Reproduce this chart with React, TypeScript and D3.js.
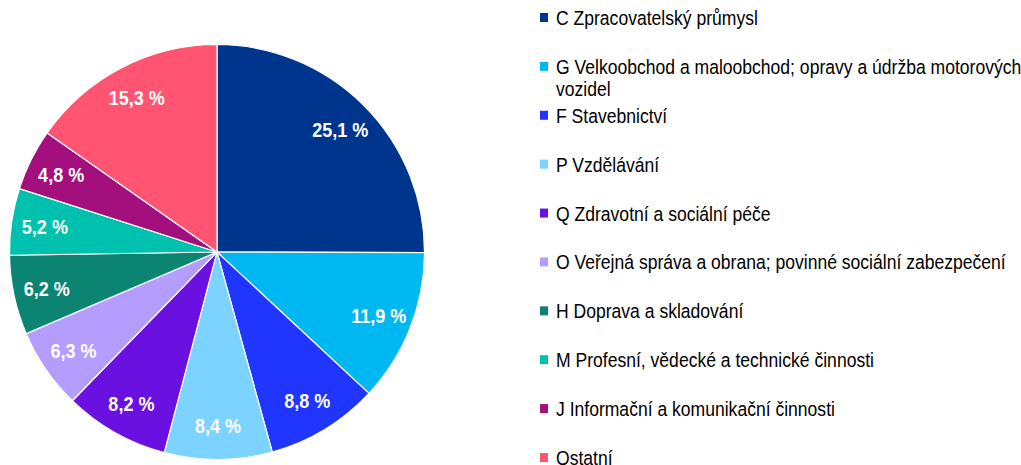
import React from "react";
import * as d3 from "d3";

const categories = [
  "C Zpracovatelský průmysl",
  "G Velkoobchod a maloobchod; opravy a údržba motorových vozidel",
  "F Stavebnictví",
  "P Vzdělávání",
  "Q Zdravotní a sociální péče",
  "O Veřejná správa a obrana; povinné sociální zabezpečení",
  "H Doprava a skladování",
  "M Profesní, vědecké a technické činnosti",
  "J Informační a komunikační činnosti",
  "Ostatní",
];
const legendLines = [
  ["C Zpracovatelský průmysl"],
  ["G Velkoobchod a maloobchod; opravy a údržba motorových", "vozidel"],
  ["F Stavebnictví"],
  ["P Vzdělávání"],
  ["Q Zdravotní a sociální péče"],
  ["O Veřejná správa a obrana; povinné sociální zabezpečení"],
  ["H Doprava a skladování"],
  ["M Profesní, vědecké a technické činnosti"],
  ["J Informační a komunikační činnosti"],
  ["Ostatní"],
];
const values = [25.1, 11.9, 8.8, 8.4, 8.2, 6.3, 6.2, 5.2, 4.8, 15.3];
const colors = [
  "#00358E", "#00B8F1", "#2036FF", "#7DD3FF", "#6A10E0",
  "#B49DFF", "#0B8472", "#00C1AE", "#A3107E", "#FF5573",
];

const W = 1021, H = 465;
const FONT = "'Liberation Sans', Arial, sans-serif";

export default function App() {
  const cx = 217, cy = 252, R = 207.5;
  const pie = d3.pie<number>().sort(null).value((d) => d)(values);
  const arc = d3.arc<d3.PieArcDatum<number>>().innerRadius(0).outerRadius(R);
  const labelArc = d3.arc<d3.PieArcDatum<number>>().innerRadius(174 * 2 - R).outerRadius(R);
  const fmt = (v: number) => v.toFixed(1).replace(".", ",") + " %";
  const ly = d3.scaleLinear().domain([0, categories.length - 1]).range([18, 458]);
  return (
    <svg width={W} height={H} style={{ position: "absolute", left: 0, top: 0 }} fontFamily={FONT}>
      <rect width={W} height={H} fill="#fff" />
      <g transform={`translate(${cx},${cy})`}>
        {pie.map((p, i) => (
          <path key={i} d={arc(p) || ""} fill={colors[i]} stroke="#fff" strokeWidth={1.2} />
        ))}
        {pie.map((p, i) => {
          const [x, y] = labelArc.centroid(p);
          return (
            <g key={"l" + i} transform={`translate(${x},${y}) scale(0.88,1)`}>
              <text x={0} y={0} dy="0.36em" textAnchor="middle" fill="#fff"
                fontWeight="bold" fontSize={20.5}>
                {fmt(values[i])}
              </text>
            </g>
          );
        })}
      </g>
      <g>
        {categories.map((c, i) => (
          <g key={c} transform={`translate(540,${ly(i)})`}>
            <rect x={0} y={-5} width={8} height={9} fill={colors[i]} />
            <g transform="translate(16,0) scale(0.9,1)">
              {legendLines[i].map((t, j) => (
                <text key={j} x={0} y={j * 22} dy="0.36em" fontSize={19.5} fill="#000">{t}</text>
              ))}
            </g>
          </g>
        ))}
      </g>
    </svg>
  );
}
